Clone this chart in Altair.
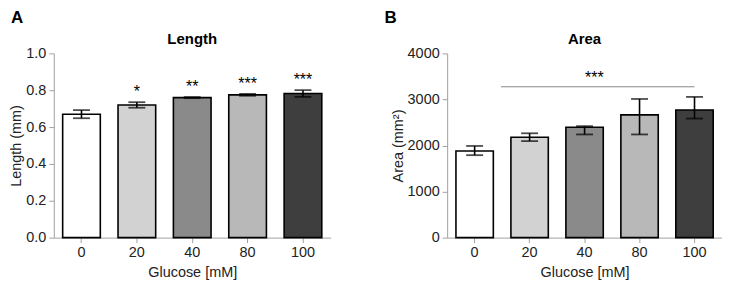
import altair as alt
import pandas as pd

glucose = ["0", "20", "40", "80", "100"]
fills = ["#ffffff", "#d2d2d2", "#8a8a8a", "#b8b8b8", "#3e3e3e"]

length_mean = [0.67, 0.72, 0.76, 0.775, 0.782]
length_err = [0.022, 0.015, 0.003, 0.005, 0.018]
length_stars = ["", "*", "**", "***", "***"]

area_mean = [1880, 2180, 2395, 2665, 2770]
area_low = [1790, 2095, 2240, 2240, 2585]
area_high = [1990, 2265, 2420, 3010, 3055]
area_sig_y = [3275]
area_sig_text = ["***"]

FONT = "Liberation Sans"
WA, WB, H = 278, 276, 185
XS = alt.Scale(domain=glucose, paddingInner=0.32, paddingOuter=0.16)
XT = "Glucose [mM]"

dfA = pd.DataFrame({
    "g": glucose, "fill": fills, "m": length_mean,
    "lo": [m - e for m, e in zip(length_mean, length_err)],
    "hi": [m + e for m, e in zip(length_mean, length_err)],
    "star": length_stars,
})
dfB = pd.DataFrame({
    "g": glucose, "fill": fills, "m": area_mean, "lo": area_low, "hi": area_high,
})


def panel(df, ytitle, ydomain, yvalues, yfmt, title, letter, letter_x, W):
    x = alt.X("g:N", title=XT, scale=XS,
              axis=alt.Axis(labelAngle=0, titlePadding=7, labelPadding=3))
    ys = alt.Scale(domain=ydomain, nice=False, zero=True)
    yax = alt.Axis(values=yvalues, format=yfmt, titlePadding=2, labelPadding=3,
                   labelOverlap=False)

    def Y(field):
        return alt.Y(field + ":Q", title=ytitle, scale=ys, axis=yax)

    base = alt.Chart(df)
    bars = base.mark_bar(stroke="black", strokeWidth=1.6).encode(
        x=x, y=Y("m"), fill=alt.Fill("fill:N", scale=None))
    err = base.mark_rule(color="black", strokeWidth=1.6).encode(
        x=alt.X("g:N", scale=XS, title=XT), y=Y("lo"), y2="hi:Q")
    cap_hi = base.mark_tick(color="black", thickness=1.8, size=17).encode(
        x=alt.X("g:N", scale=XS, title=XT), y=Y("hi"))
    cap_lo = base.mark_tick(color="black", thickness=1.8, size=17).encode(
        x=alt.X("g:N", scale=XS, title=XT), y=Y("lo"))
    one = base.transform_filter("datum.g == '0'")
    lab = one.mark_text(text=letter, font=FONT, fontSize=17, fontWeight="bold",
                        align="left", baseline="top", color="black").encode(
        x=alt.value(letter_x), y=alt.value(-44))
    ttl = one.mark_text(text=title, font=FONT, fontSize=15, fontWeight="bold",
                        align="center", baseline="alphabetic", color="black").encode(
        x=alt.value(W / 2), y=alt.value(-9))
    return [bars, err, cap_hi, cap_lo, lab, ttl], base, Y


layersA, baseA, YA = panel(dfA, "Length (mm)", [0, 1.0], [0, 0.2, 0.4, 0.6, 0.8, 1.0],
                           ".1f", "Length", "A", -43, WA)
starsA = baseA.mark_text(font=FONT, fontSize=16, baseline="bottom", dy=-2).encode(
    x=alt.X("g:N", scale=XS, title=XT), y=YA("hi"), text="star:N")
chartA = alt.layer(*layersA, starsA).properties(width=WA, height=H)

layersB, baseB, YB = panel(dfB, "Area (mm²)", [0, 4000], [0, 1000, 2000, 3000, 4000],
                           "d", "Area", "B", -63, WB)
sig = pd.DataFrame({"y": area_sig_y, "t": area_sig_text,
                    "a": ["20"], "b": ["100"], "c": ["40"]})
sigline = alt.Chart(sig).mark_rule(color="#888", strokeWidth=1, xOffset=-10).encode(
    x=alt.X("a:N", scale=XS, bandPosition=0.0, title=XT),
    x2=alt.X2("b:N", bandPosition=0.5),
    y=YB("y"))
sigtext = alt.Chart(sig).mark_text(font=FONT, fontSize=16, baseline="bottom", dy=-1).encode(
    x=alt.X("c:N", scale=XS, bandPosition=0.76, title=XT), y=YB("y"), text="t:N")
chartB = alt.layer(*layersB, sigline, sigtext).properties(width=WB, height=H)

chart = alt.hconcat(chartA, chartB, spacing=54).resolve_scale(y="independent").properties(
    padding={"left": 0, "top": 0, "right": 0, "bottom": 0}
).configure_view(stroke=None).configure_axis(
    grid=False, domainColor="#a0a0a0", tickColor="#a0a0a0", tickSize=5,
    labelColor="#222", labelFont=FONT, labelFontSize=14.5,
    titleFont=FONT, titleFontSize=14.5, titleFontWeight="normal", titleColor="#222",
)

chart.save("out.html", embed_options={"renderer": "svg", "actions": False})
